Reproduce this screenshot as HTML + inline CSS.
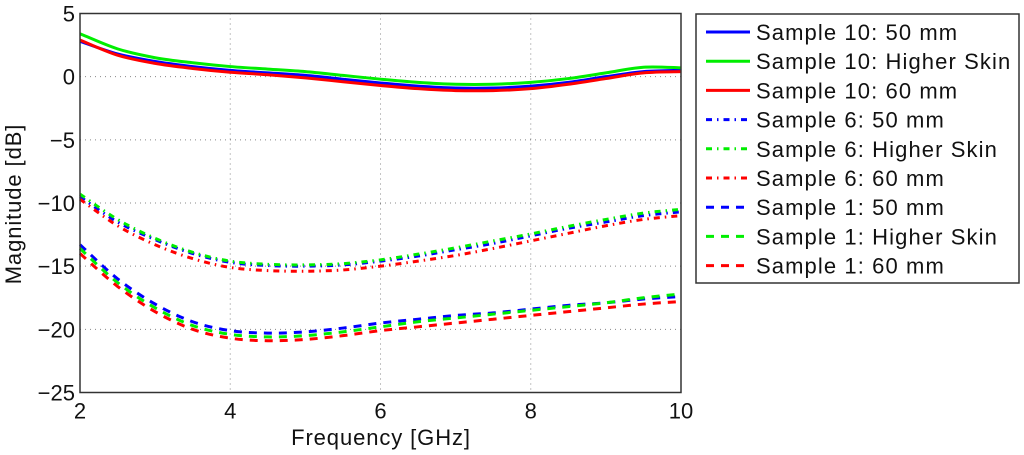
<!DOCTYPE html>
<html><head><meta charset="utf-8"><style>
html,body{margin:0;padding:0;background:#fff;width:1024px;height:455px;overflow:hidden}
svg text{font-family:"Liberation Sans",sans-serif;fill:#111}
</style></head><body>
<svg id="chart" width="1024" height="455" xmlns="http://www.w3.org/2000/svg">
<g id="grid"></g>
<g id="series"></g>
<g id="axes"></g>
<text x="381" y="445" font-size="22" letter-spacing="0.9" text-anchor="middle">Frequency [GHz]</text>
<text transform="translate(21,204) rotate(-90)" font-size="22" letter-spacing="0.9" text-anchor="middle">Magnitude [dB]</text>
<g id="legend"></g>
</svg>
<script>
const freqs=[2,2.5,3,3.5,4,4.5,5,5.5,6,6.5,7,7.5,8,8.5,9,9.5,10];
const s10_50=[2.8,1.8,1.2,0.8,0.5,0.3,0.1,-0.2,-0.5,-0.75,-0.9,-0.9,-0.75,-0.45,0,0.4,0.5];
const s10_hs=[3.4,2.2,1.5,1.1,0.8,0.6,0.4,0.1,-0.2,-0.45,-0.6,-0.6,-0.45,-0.15,0.3,0.75,0.7];
const s10_60=[2.9,1.7,1.05,0.65,0.35,0.15,-0.1,-0.4,-0.7,-0.95,-1.1,-1.1,-0.95,-0.6,-0.15,0.3,0.4];
const s6_50=[-9.5,-11.5,-12.9,-14,-14.7,-14.95,-15,-14.9,-14.6,-14.2,-13.7,-13.2,-12.6,-12,-11.5,-11,-10.7];
const s6_hs=[-9.3,-11.3,-12.8,-13.9,-14.6,-14.85,-14.9,-14.8,-14.5,-14.05,-13.55,-13,-12.45,-11.85,-11.3,-10.8,-10.5];
const s6_60=[-9.7,-11.8,-13.3,-14.4,-15.1,-15.35,-15.4,-15.3,-15,-14.6,-14.15,-13.6,-13,-12.4,-11.8,-11.3,-11];
const s1_50=[-13.3,-16,-18,-19.4,-20.1,-20.3,-20.2,-19.9,-19.5,-19.2,-18.9,-18.7,-18.4,-18.1,-17.9,-17.6,-17.4];
const s1_hs=[-13.6,-16.3,-18.3,-19.7,-20.4,-20.6,-20.5,-20.2,-19.8,-19.4,-19.1,-18.8,-18.5,-18.2,-17.9,-17.5,-17.2];
const s1_60=[-14,-16.6,-18.6,-20,-20.7,-20.9,-20.8,-20.5,-20.1,-19.8,-19.5,-19.2,-18.9,-18.6,-18.3,-18,-17.8];
const xTicks=[2,4,6,8,10];
const yTicks=[5,0,-5,-10,-15,-20,-25];
const seriesNames=["Sample 10: 50 mm","Sample 10: Higher Skin","Sample 10: 60 mm","Sample 6: 50 mm","Sample 6: Higher Skin","Sample 6: 60 mm","Sample 1: 50 mm","Sample 1: Higher Skin","Sample 1: 60 mm"];
const seriesData=[s10_50,s10_hs,s10_60,s6_50,s6_hs,s6_60,s1_50,s1_hs,s1_60];
const colors=["#0000ff","#00ee00","#ff0000"];
const dashes=["","6,5,1.5,5","8,7"];
const L=80,R=681,T=13.5,B=392.5;
const xs=v=>L+(v-2)/8*(R-L);
const ys=v=>T+(5-v)/30*(B-T);
const NS="http://www.w3.org/2000/svg";
function mk(t,a,p){const e=document.createElementNS(NS,t);for(const k in a)e.setAttribute(k,a[k]);p.appendChild(e);return e;}
const grid=document.getElementById('grid'),axes=document.getElementById('axes'),ser=document.getElementById('series'),leg=document.getElementById('legend');
xTicks.forEach(v=>{
 if(v>2&&v<10){const g=mk('line',{x1:xs(v),x2:xs(v),y1:T,y2:B,stroke:'#888','stroke-width':1,'stroke-dasharray':'1,4'},grid);
 
 }
 const t=mk('text',{x:xs(v),y:B+26,'font-size':22,'text-anchor':'middle'},axes);t.textContent=v;
 
 
});
yTicks.forEach(v=>{
 if(v<5&&v>-25){const g=mk('line',{x1:L,x2:R,y1:ys(v),y2:ys(v),stroke:'#888','stroke-width':1,'stroke-dasharray':'1,4'},grid);
 
 }
 const t=mk('text',{x:L-5,y:ys(v)+8,'font-size':22,'text-anchor':'end'},axes);t.textContent=(v<0?'\u2212'+(-v):v);
 
 
});
const fr=mk('rect',{x:L,y:T,width:R-L,height:B-T,fill:'none',stroke:'#333','stroke-width':1.5},axes);


function path(arr){
 const p=arr.map((v,i)=>[xs(freqs[i]),ys(v)]);
 let d='M'+p[0][0]+','+p[0][1];
 for(let i=0;i<p.length-1;i++){
  const p0=p[Math.max(0,i-1)],p1=p[i],p2=p[i+1],p3=p[Math.min(p.length-1,i+2)];
  d+=` C${p1[0]+(p2[0]-p0[0])/6},${p1[1]+(p2[1]-p0[1])/6} ${p2[0]-(p3[0]-p1[0])/6},${p2[1]-(p3[1]-p1[1])/6} ${p2[0]},${p2[1]}`;
 }
 return d;
}
seriesData.forEach((arr,i)=>{
 const el=mk('path',{d:path(arr),fill:'none',stroke:colors[i%3],'stroke-width':3},ser);
 if(dashes[Math.floor(i/3)])el.setAttribute('stroke-dasharray',dashes[Math.floor(i/3)]);
 
 
});
const lb=mk('rect',{x:696,y:14,width:323,height:269,fill:'#fff',stroke:'#333','stroke-width':1.5},leg);


seriesNames.forEach((n,i)=>{
 const y=32+i*29.2;
 const l=mk('line',{x1:706,x2:750,y1:y,y2:y,stroke:colors[i%3],'stroke-width':3},leg);
 if(dashes[Math.floor(i/3)])l.setAttribute('stroke-dasharray',dashes[Math.floor(i/3)]);
 
 
 const t=mk('text',{x:756,y:y+8,'font-size':22,'letter-spacing':'1.1'},leg);t.textContent=n;
 
 
});
</script>
</body></html>
